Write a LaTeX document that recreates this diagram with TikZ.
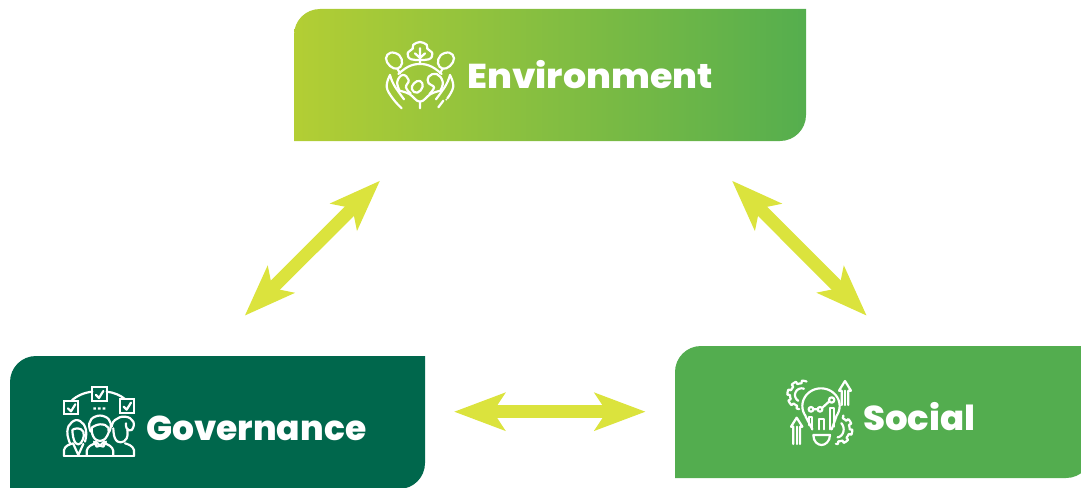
\documentclass[tikz,border=0pt]{standalone}
\usepackage{fontspec}
\setmainfont{Poppins}[BoldFont={Poppins ExtraBold}]
\usetikzlibrary{arrows.meta,calc}
\definecolor{envleft}{HTML}{B3CE34}
\definecolor{envright}{HTML}{55AE4E}
\definecolor{socialgreen}{HTML}{53AD4F}
\definecolor{govgreen}{HTML}{00674C}
\definecolor{arrowyellow}{HTML}{DBE33D}
\tikzset{
  linkarrow/.style={draw=arrowyellow,line width=13pt,
    {Stealth[length=50.6pt,width=37pt,inset=11.7pt,fill=arrowyellow]}-{Stealth[length=50.6pt,width=37pt,inset=11.7pt,fill=arrowyellow]}},
  boxtitle/.style={anchor=base west,inner sep=0pt,text=white,font=\bfseries\fontsize{34.5pt}{34.5pt}\selectfont},
  icon/.style={draw=white,line width=2.2pt,line cap=round,line join=round,fill=none},
  zoomed/.style={x=0.3333pt,y=-0.3333pt},
}
\newcommand{\cornerbox}[4]{(#1,#4) -- (#1,#2+26) .. controls (#1,#2+11.6) and (#1+11.6,#2) .. (#1+26,#2) -- (#3,#2) -- (#3,#4-26) .. controls (#3,#4-11.6) and (#3-11.6,#4) .. (#3-26,#4) -- cycle}
\begin{document}
\begin{tikzpicture}[x=1pt,y=-1pt]
\useasboundingbox (0,0) rectangle (1081,487);
\clip (0,0) rectangle (1081,487);
% boxes
\shade[left color=envleft,right color=envright] \cornerbox{294}{9}{806}{141};
\fill[govgreen] \cornerbox{10}{356}{425}{489};
\fill[socialgreen] \cornerbox{675}{346}{1092}{478};
% titles
\node[boxtitle] (envtitle) at (467,88.5) {\scalebox{1.055}[1]{Environment}};
\node[boxtitle] (govtitle) at (146,440.5) {Governance};
\node[boxtitle] (soctitle) at (863,430.5) {\scalebox{1.03}[1]{Social}};
% arrows
\coordinate (envL) at (380,180.7);
\coordinate (govT) at (244.7,315.7);
\coordinate (envR) at (732,180.7);
\coordinate (socT) at (866.7,315.7);
\coordinate (govR) at (454,411.7);
\coordinate (socL) at (645.7,411.7);
\draw[linkarrow] (envL) -- (govT);
\draw[linkarrow] (envR) -- (socT);
\draw[linkarrow] (govR) -- (socL);
% environment icon
\begin{scope}[shift={(370,30)},zoomed]
\draw[icon] plot[smooth cycle,tension=.6] coordinates {(150,36) (170,44) (172,56) (187,70) (176,88) (124,88) (113,70) (128,56) (130,44)};
\draw[icon] (150,55)--(150,100) (135,70)--(150,84)--(165,70);
\draw[icon] plot[smooth cycle,tension=.7] coordinates {(48,85) (62,68) (88,76) (96,100) (82,116) (60,108)};
\draw[icon] plot[smooth cycle,tension=.7] coordinates {(252,85) (238,68) (212,76) (204,100) (218,116) (240,108)};
\draw[icon] (82,116)--(90,130) (218,116)--(210,130);
\draw[icon] plot[smooth,tension=.7] coordinates {(85,132) (115,110) (150,102) (185,110) (215,132)};
\draw[icon] plot[smooth cycle,tension=.8] coordinates {(150,153) (158,170) (142,188) (126,178) (132,160)};
\draw[icon] plot[smooth,tension=.8] coordinates {(88,180) (82,155) (98,135) (116,150) (108,172) (122,190)};
\draw[icon] plot[smooth,tension=.8] coordinates {(212,180) (218,155) (200,132) (176,140) (176,160) (192,172) (178,192)};
\draw[icon] plot[smooth,tension=.7] coordinates {(60,135) (50,170) (68,205) (95,235)};
\draw[icon] plot[smooth,tension=.7] coordinates {(60,135) (72,165) (102,208)};
\draw[icon] plot[smooth,tension=.7] coordinates {(240,135) (250,170) (232,205)};
\draw[icon] plot[smooth,tension=.7] coordinates {(240,135) (228,165) (198,208)};
\draw[icon] plot[smooth,tension=.7] coordinates {(88,182) (118,192) (150,215) (182,192) (212,182)};
\draw[icon] (150,215)--(150,235) (220,212)--(205,232);
\fill[white] (229,209) circle[radius=3];
\end{scope}
% governance icon
\begin{scope}[shift={(50,375)},zoomed]
\draw[icon,line join=miter] (127,37) rectangle (170,78);
\draw[icon,line join=miter] (43,77) rectangle (85,118);
\draw[icon,line join=miter] (210,72) rectangle (253,115);
\draw[icon] (138,60)--(147,69)--(160,48) (54,100)--(63,109)--(76,88) (221,95)--(230,104)--(243,83);
\draw[icon] (65,77) .. controls (80,62) and (105,52) .. (127,50);
\draw[icon] (170,50) .. controls (190,52) and (210,60) .. (225,72);
\fill[white] (130,97) rectangle (138,104) (144,97) rectangle (152,104) (158,97) rectangle (166,104);
% left person
\draw[icon] plot[smooth,tension=.8] coordinates {(60,205) (52,170) (65,142) (90,138) (108,165) (105,200)};
\draw[icon] plot[smooth,tension=.8] coordinates {(67,165) (72,195) (85,208) (98,195) (100,170) (82,160) (67,165)};
\draw[icon] (42,242)--(42,225) .. controls (45,212) and (58,208) .. (70,205);
\draw[icon] (70,207)--(85,240)--(100,207);
% middle person
\draw[icon] plot[smooth,tension=.8] coordinates {(122,170) (118,145) (135,125) (165,125) (182,145) (178,170)};
\draw[icon] plot[smooth,tension=.8] coordinates {(125,158) (130,185) (150,198) (170,185) (175,158) (150,148) (125,158)};
\draw[icon] (110,242)--(110,228) .. controls (112,215) and (125,208) .. (138,205);
\draw[icon] (190,242)--(190,228) .. controls (188,215) and (175,208) .. (162,205);
\draw[icon] (138,200)--(150,212)--(162,200) (132,200)--(140,215)--(150,212)--(160,215)--(168,200);
% right person
\draw[icon] plot[smooth,tension=.8] coordinates {(185,155) (195,135) (225,125) (250,140) (245,165) (230,160) (228,145)};
\draw[icon] plot[smooth,tension=.8] coordinates {(190,160) (195,190) (212,202) (230,190) (232,165)};
\draw[icon] (252,242)--(252,225) .. controls (248,212) and (235,208) .. (225,205);
\draw[icon] (42,242)--(252,242);
\end{scope}
% social icon
\begin{scope}[shift={(775,370)},zoomed]
% left gear
\draw[icon] plot[domain=100:290,samples=120] ({80+(35+8*(sin(8*\x)>0?1:0))*cos(\x)},{75+(35+8*(sin(8*\x)>0?1:0))*sin(\x)});
\draw[icon] plot[domain=120:290,samples=18] ({80+20*cos(\x)},{75+20*sin(\x)});
% bulb
\draw[icon] plot[domain=-215:35,samples=36] ({138+56*cos(\x)},{108+53*sin(\x)});
\draw[icon] (92,140) -- (112,178) (184,140) -- (170,178);
% right gear
\draw[icon] plot[domain=-70:100,samples=120] ({190+(34+8*(sin(8*\x)>0?1:0))*cos(\x)},{178+(36+8*(sin(8*\x)>0?1:0))*sin(\x)});
\draw[icon] plot[domain=-50:85,samples=18] ({186+20*cos(\x)},{178+24*sin(\x)});
% bowl
\draw[icon] (115,195) -- (165,195) .. controls (165,215) and (150,225) .. (140,225) .. controls (128,225) and (115,215) .. (115,195);
% chart
\draw[icon] (102,165)--(102,140)--(112,140)--(112,178);
\draw[icon] (132,178)--(132,148)--(146,148)--(146,178);
\draw[icon] (165,178)--(165,115)--(178,115)--(178,170);
\draw[icon] (108,118) circle[radius=7] (135,118) circle[radius=7] (170,90) circle[radius=8];
\draw[icon] (115,118)--(128,118) (141,114)--(163,94);
% arrows
\draw[icon] (200,105)--(200,62)--(192,62)--(210,33)--(228,62)--(220,62)--(220,105);
\draw[icon] (210,62)--(210,105);
\draw[icon] (55,222)--(55,170)--(48,170)--(65,143)--(82,170)--(75,170)--(75,222);
\draw[icon] (65,170)--(65,222);
\end{scope}
\end{tikzpicture}
\end{document}
